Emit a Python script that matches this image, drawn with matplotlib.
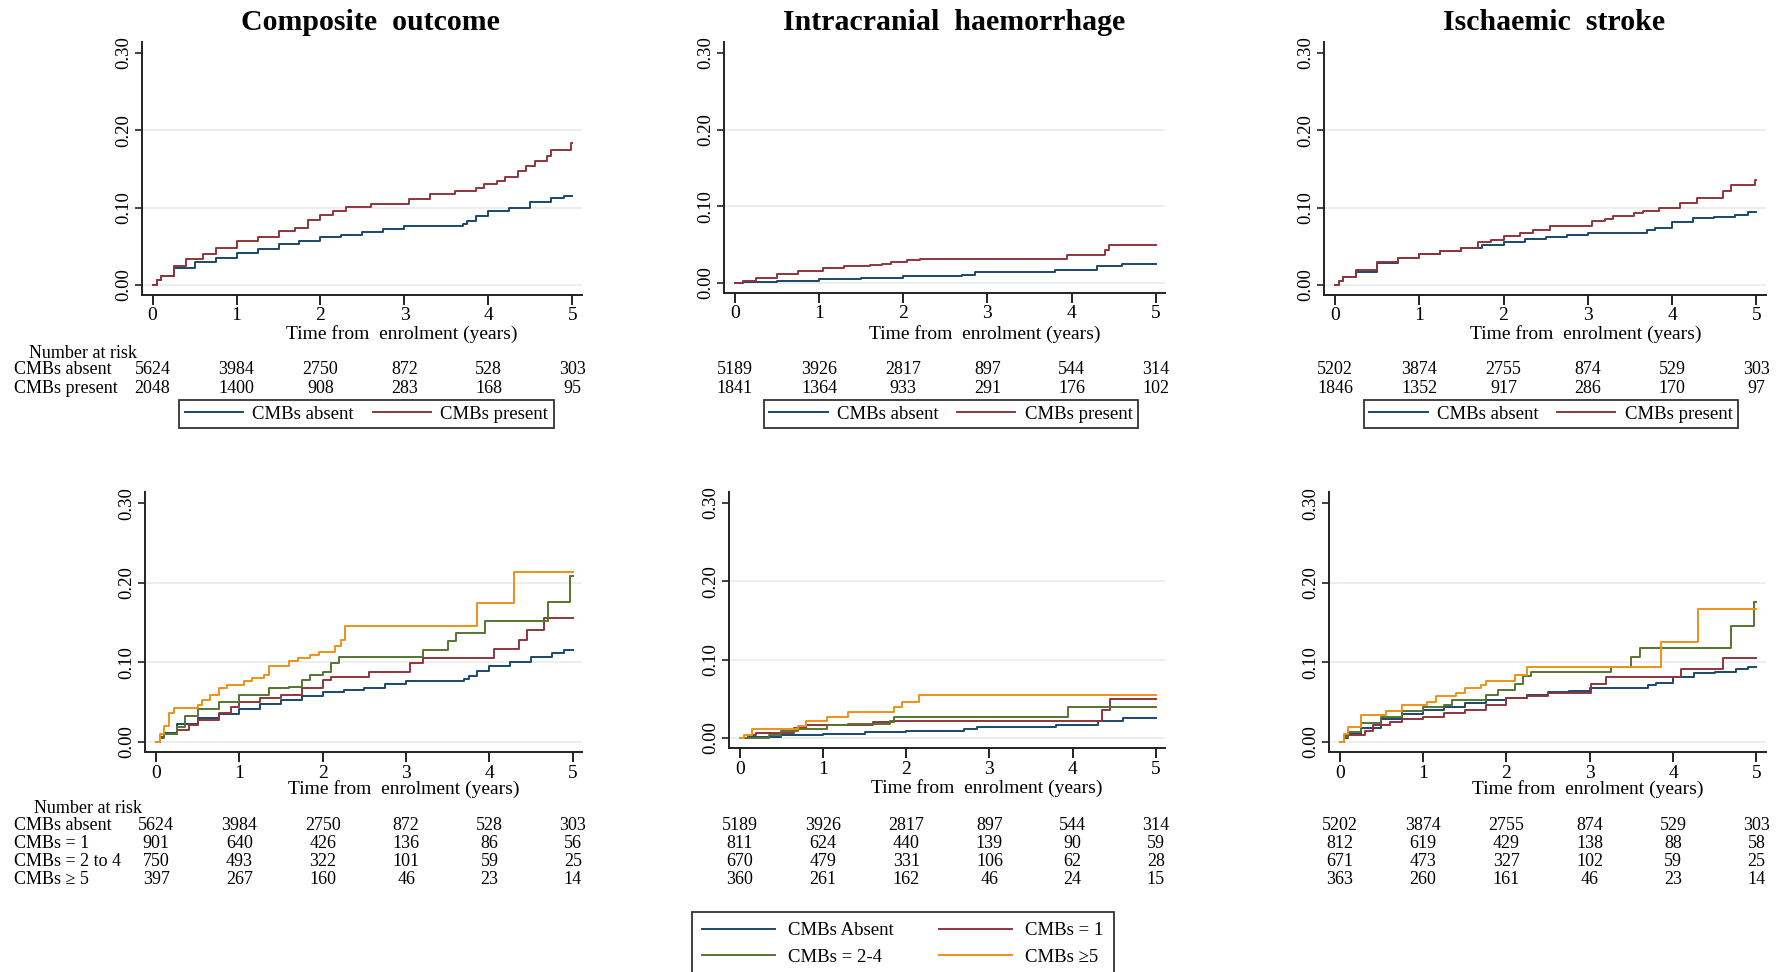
import matplotlib
matplotlib.use("Agg")
import matplotlib.pyplot as plt
import matplotlib.transforms as mtransforms
from matplotlib.ticker import FormatStrFormatter
from matplotlib.lines import Line2D

plt.rcParams['font.family'] = ['Liberation Serif', 'DejaVu Serif']

# ---- data ----
titles = ["Composite  outcome", "Intracranial  haemorrhage", "Ischaemic  stroke"]
years = [0, 1, 2, 3, 4, 5]

# composite outcome
comp_absent_t = [0, 0.05, 0.1, 0.25, 0.5, 0.75, 1.0, 1.25, 1.5, 1.75, 2.0, 2.25, 2.5, 2.75, 3.0, 3.7, 3.75, 3.85, 4.0, 4.25, 4.5, 4.75, 4.9, 5.0]
comp_absent_v = [0, 0.006, 0.011, 0.022, 0.030, 0.035, 0.041, 0.047, 0.053, 0.057, 0.062, 0.065, 0.068, 0.072, 0.076, 0.079, 0.083, 0.089, 0.095, 0.100, 0.107, 0.112, 0.115, 0.115]
comp_present_t = [0, 0.05, 0.1, 0.25, 0.4, 0.6, 0.75, 1.0, 1.25, 1.5, 1.7, 1.85, 2.0, 2.15, 2.3, 2.6, 3.05, 3.3, 3.6, 3.85, 3.95, 4.1, 4.2, 4.35, 4.45, 4.55, 4.7, 4.75, 4.98, 5.0]
comp_present_v = [0, 0.006, 0.012, 0.025, 0.034, 0.040, 0.048, 0.057, 0.062, 0.070, 0.074, 0.084, 0.090, 0.095, 0.101, 0.104, 0.111, 0.117, 0.122, 0.125, 0.131, 0.134, 0.140, 0.147, 0.154, 0.160, 0.167, 0.174, 0.184, 0.184]
comp_one_t = [0, 0.05, 0.1, 0.25, 0.4, 0.5, 0.75, 0.9, 1.0, 1.25, 1.5, 1.75, 2.0, 2.1, 2.55, 3.05, 3.2, 4.05, 4.35, 4.45, 4.65, 5.0]
comp_one_v = [0, 0.006, 0.010, 0.015, 0.021, 0.027, 0.036, 0.044, 0.050, 0.055, 0.059, 0.067, 0.078, 0.081, 0.088, 0.099, 0.105, 0.117, 0.128, 0.141, 0.156, 0.156]
comp_two_t = [0, 0.05, 0.1, 0.25, 0.35, 0.5, 0.75, 1.0, 1.35, 1.6, 1.75, 1.85, 2.0, 2.1, 2.2, 3.2, 3.5, 3.6, 3.95, 4.7, 4.97, 5.0]
comp_two_v = [0, 0.005, 0.010, 0.018, 0.032, 0.041, 0.050, 0.059, 0.067, 0.069, 0.078, 0.084, 0.087, 0.099, 0.106, 0.115, 0.127, 0.137, 0.152, 0.176, 0.208, 0.208]
comp_five_t = [0, 0.05, 0.1, 0.15, 0.22, 0.5, 0.55, 0.65, 0.75, 0.85, 1.05, 1.15, 1.3, 1.35, 1.6, 1.7, 1.85, 1.95, 2.15, 2.22, 2.27, 3.85, 4.3, 5.0]
comp_five_v = [0, 0.010, 0.020, 0.036, 0.042, 0.046, 0.052, 0.059, 0.067, 0.071, 0.076, 0.080, 0.084, 0.095, 0.101, 0.105, 0.109, 0.113, 0.120, 0.128, 0.145, 0.175, 0.214, 0.214]

# intracranial haemorrhage
ich_absent_t = [0, 0.1, 0.5, 1.0, 1.5, 2.0, 2.7, 2.85, 3.8, 4.3, 4.6, 5.0]
ich_absent_v = [0, 0.001, 0.003, 0.005, 0.007, 0.009, 0.011, 0.014, 0.017, 0.022, 0.025, 0.025]
ich_present_t = [0, 0.1, 0.25, 0.5, 0.75, 1.05, 1.3, 1.6, 1.75, 1.85, 2.05, 2.2, 3.95, 4.4, 4.45, 5.0]
ich_present_v = [0, 0.003, 0.006, 0.012, 0.016, 0.019, 0.022, 0.023, 0.025, 0.027, 0.030, 0.031, 0.036, 0.043, 0.050, 0.050]
ich_one_t = [0, 0.1, 0.2, 0.65, 0.8, 1.1, 1.6, 1.85, 2.05, 4.35, 4.45, 5.0]
ich_one_v = [0, 0.003, 0.006, 0.013, 0.016, 0.017, 0.020, 0.021, 0.022, 0.035, 0.050, 0.050]
ich_two_t = [0, 0.35, 0.5, 0.7, 1.05, 1.3, 1.8, 1.85, 3.95, 5.0]
ich_two_v = [0, 0.004, 0.009, 0.011, 0.016, 0.018, 0.021, 0.026, 0.040, 0.040]
ich_five_t = [0, 0.05, 0.15, 0.7, 0.8, 1.05, 1.3, 1.85, 1.95, 2.15, 5.0]
ich_five_v = [0, 0.004, 0.011, 0.015, 0.021, 0.026, 0.033, 0.039, 0.046, 0.055, 0.055]

# ischaemic stroke
is_absent_t = [0, 0.05, 0.1, 0.25, 0.5, 0.75, 1.0, 1.25, 1.5, 1.75, 2.0, 2.25, 2.5, 2.75, 3.0, 3.7, 3.8, 4.0, 4.25, 4.5, 4.75, 4.9, 5.0]
is_absent_v = [0, 0.005, 0.010, 0.017, 0.028, 0.035, 0.040, 0.044, 0.048, 0.052, 0.055, 0.059, 0.062, 0.064, 0.067, 0.071, 0.074, 0.081, 0.086, 0.088, 0.091, 0.094, 0.094]
is_present_t = [0, 0.05, 0.1, 0.25, 0.5, 0.75, 1.0, 1.25, 1.5, 1.7, 1.85, 2.0, 2.2, 2.35, 2.55, 3.05, 3.2, 3.3, 3.55, 3.65, 3.85, 4.1, 4.3, 4.6, 4.7, 4.98, 5.0]
is_present_v = [0, 0.005, 0.010, 0.019, 0.030, 0.035, 0.040, 0.044, 0.048, 0.055, 0.058, 0.063, 0.067, 0.071, 0.076, 0.082, 0.085, 0.089, 0.093, 0.096, 0.100, 0.106, 0.113, 0.121, 0.129, 0.136, 0.136]
is_one_t = [0, 0.05, 0.3, 0.4, 0.6, 0.75, 1.0, 1.25, 1.5, 1.75, 2.0, 2.25, 2.5, 3.02, 3.2, 4.1, 4.6, 5.0]
is_one_v = [0, 0.008, 0.013, 0.021, 0.025, 0.028, 0.031, 0.036, 0.040, 0.046, 0.055, 0.057, 0.061, 0.073, 0.081, 0.091, 0.105, 0.105]
is_two_t = [0, 0.05, 0.1, 0.25, 0.5, 0.75, 1.0, 1.25, 1.35, 1.75, 1.9, 2.1, 2.2, 2.3, 3.25, 3.5, 3.6, 4.7, 4.97, 5.0]
is_two_v = [0, 0.006, 0.012, 0.023, 0.031, 0.038, 0.044, 0.046, 0.052, 0.059, 0.065, 0.073, 0.082, 0.087, 0.094, 0.107, 0.118, 0.145, 0.176, 0.176]
is_five_t = [0, 0.05, 0.1, 0.25, 0.55, 0.75, 1.05, 1.15, 1.4, 1.5, 1.7, 1.75, 2.1, 2.25, 3.85, 4.3, 5.0]
is_five_v = [0, 0.010, 0.019, 0.034, 0.038, 0.046, 0.050, 0.057, 0.061, 0.067, 0.071, 0.076, 0.084, 0.094, 0.125, 0.167, 0.167]

# number at risk
comp_risk2 = [[5624, 3984, 2750, 872, 528, 303], [2048, 1400, 908, 283, 168, 95]]
ich_risk2 = [[5189, 3926, 2817, 897, 544, 314], [1841, 1364, 933, 291, 176, 102]]
is_risk2 = [[5202, 3874, 2755, 874, 529, 303], [1846, 1352, 917, 286, 170, 97]]
comp_risk4 = [[5624, 3984, 2750, 872, 528, 303], [901, 640, 426, 136, 86, 56],
              [750, 493, 322, 101, 59, 25], [397, 267, 160, 46, 23, 14]]
ich_risk4 = [[5189, 3926, 2817, 897, 544, 314], [811, 624, 440, 139, 90, 59],
             [670, 479, 331, 106, 62, 28], [360, 261, 162, 46, 24, 15]]
is_risk4 = [[5202, 3874, 2755, 874, 529, 303], [812, 619, 429, 138, 88, 58],
            [671, 473, 327, 102, 59, 25], [363, 260, 161, 46, 23, 14]]

labels2 = ["CMBs absent", "CMBs present"]
labels4 = ["CMBs absent", "CMBs = 1", "CMBs = 2 to 4", "CMBs \u2265 5"]
legend2 = ["CMBs absent", "CMBs present"]
legend4 = ["CMBs Absent", "CMBs = 1", "CMBs = 2-4", "CMBs \u22655"]

colors = ["#1a476f", "#90353b", "#55752f", "#ee9216"]

# ---- layout (pixels) ----
W, H = 1780, 972
fig = plt.figure(figsize=(W / 100, H / 100), dpi=100)


def px_rect(l, t, r, b):
    return [l / W, 1 - b / H, (r - l) / W, (b - t) / H]


def fy(y):
    return 1 - y / H


def setup(ax, title=None, xlab_y=333):
    ax.set_xlim(-0.13, 5.11)
    ax.set_ylim(-0.013, 0.314)
    ax.set_xticks(years)
    ax.set_yticks([0, 0.1, 0.2, 0.3])
    ax.yaxis.set_major_formatter(FormatStrFormatter('%.2f'))
    for g in [0, 0.1, 0.2]:
        ax.axhline(g, color="#e8ecee", lw=1.2, zorder=0)
    for s in ["top", "right"]:
        ax.spines[s].set_visible(False)
    for s in ["left", "bottom"]:
        ax.spines[s].set_linewidth(1.4)
        ax.spines[s].set_color("#222222")
    ax.tick_params(axis='x', direction='out', length=7, width=1.4, labelsize=14, pad=2, color="#222222")
    ax.tick_params(axis='y', direction='out', length=5, width=1.2, labelsize=13.5, pad=2,
                   labelrotation=90, color="#222222")
    for lab in ax.get_yticklabels():
        lab.set_va('center')
    tr = mtransforms.blended_transform_factory(ax.transData, fig.transFigure)
    ax.text(2.97, fy(xlab_y), "Time from  enrolment (years)", transform=tr,
            ha='center', va='center', fontsize=14)
    if title:
        ax.text(2.6, fy(22), title, transform=tr, ha='center', va='center',
                fontsize=21.5, fontweight='bold')
    return tr


def risk_table(ax, tr, rows, ys):
    for row, y in zip(rows, ys):
        for x, n in zip(years, row):
            ax.text(x, fy(y), str(n), transform=tr, ha='center', va='center', fontsize=13)


# top row
top_rects = [px_rect(141.6, 42, 581.7, 295), px_rect(724, 42, 1165, 293), px_rect(1324, 42, 1765.6, 295)]
top_curves = [
    [(comp_absent_t, comp_absent_v), (comp_present_t, comp_present_v)],
    [(ich_absent_t, ich_absent_v), (ich_present_t, ich_present_v)],
    [(is_absent_t, is_absent_v), (is_present_t, is_present_v)],
]
top_risk = [comp_risk2, ich_risk2, is_risk2]
top_leg_cx = [366.5, 951, 1551]

for i in range(3):
    ax = fig.add_axes(top_rects[i])
    tr = setup(ax, titles[i], xlab_y=334)
    for (t, v), c in zip(top_curves[i], colors):
        ax.step(t, v, where='post', color=c, lw=1.4)
    risk_table(ax, tr, top_risk[i], [370, 388])
    handles = [Line2D([0], [0], color=c, lw=1.4) for c in colors[:2]]
    leg = fig.legend(handles, legend2, loc='center', bbox_to_anchor=(top_leg_cx[i] / W, fy(414)),
                     ncol=2, fontsize=13.5, frameon=True, fancybox=False,
                     edgecolor="black", handlelength=3.1, columnspacing=1.0,
                     handletextpad=0.5, borderpad=0.3, borderaxespad=0)
    leg.get_frame().set_linewidth(1.3)

fig.text(28.7 / W, fy(353), "Number at risk", ha='left', va='center', fontsize=13)
for lab, y in zip(labels2, [370, 388]):
    fig.text(14.5 / W, fy(y), lab, ha='left', va='center', fontsize=13)

# bottom row
bot_rects = [px_rect(145.3, 492, 582, 752), px_rect(729, 492, 1165, 748), px_rect(1329, 492, 1765.6, 752)]
bot_curves = [
    [(comp_absent_t, comp_absent_v), (comp_one_t, comp_one_v), (comp_two_t, comp_two_v), (comp_five_t, comp_five_v)],
    [(ich_absent_t, ich_absent_v), (ich_one_t, ich_one_v), (ich_two_t, ich_two_v), (ich_five_t, ich_five_v)],
    [(is_absent_t, is_absent_v), (is_one_t, is_one_v), (is_two_t, is_two_v), (is_five_t, is_five_v)],
]
bot_risk = [comp_risk4, ich_risk4, is_risk4]
bot_xlab_y = [789, 788, 789]
bot_rows_y = [826, 843, 861, 879]

for i in range(3):
    ax = fig.add_axes(bot_rects[i])
    tr = setup(ax, None, xlab_y=bot_xlab_y[i])
    for (t, v), c in zip(bot_curves[i], colors):
        ax.step(t, v, where='post', color=c, lw=1.4)
    risk_table(ax, tr, bot_risk[i], bot_rows_y)

fig.text(34.4 / W, fy(808), "Number at risk", ha='left', va='center', fontsize=13)
for lab, y in zip(labels4, bot_rows_y):
    fig.text(14.5 / W, fy(y), lab, ha='left', va='center', fontsize=13)

handles4 = [Line2D([0], [0], color=c, lw=1.4) for c in colors]
leg = fig.legend([handles4[0], handles4[2], handles4[1], handles4[3]],
                 [legend4[0], legend4[2], legend4[1], legend4[3]],
                 loc='upper center', bbox_to_anchor=(903 / W, fy(912)),
                 ncol=2, fontsize=13.5, frameon=True, fancybox=False,
                 edgecolor="black", handlelength=3.9, columnspacing=2.4,
                 handletextpad=0.7, borderpad=0.55, labelspacing=0.5, borderaxespad=0)
leg.get_frame().set_linewidth(1.3)

fig.savefig("out.png", dpi=100)
